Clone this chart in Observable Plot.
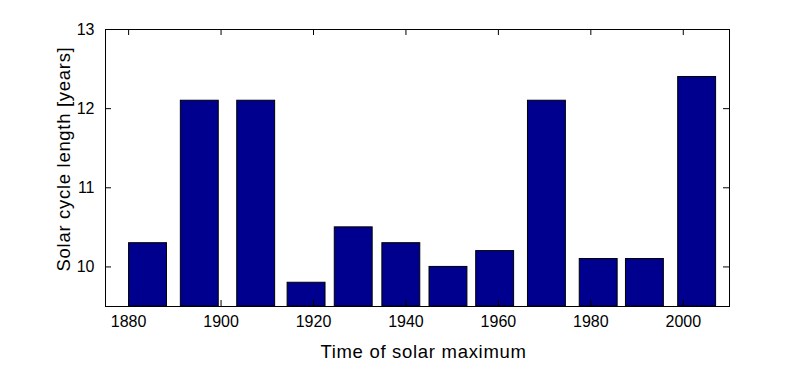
<!DOCTYPE html>
<html>
<head>
<meta charset="utf-8">
<script src="https://cdn.jsdelivr.net/npm/d3@7"></script>
<script src="https://cdn.jsdelivr.net/npm/@observablehq/plot@0.6"></script>
<style>
  html, body { margin: 0; padding: 0; background: #fff; }
  #chart svg { display: block; }
</style>
</head>
<body>
<div id="chart"></div>
<script>
// Data
const years = [1884.2, 1895.4, 1907.6, 1918.5, 1928.7, 1939.0, 1949.2, 1959.3, 1970.5, 1981.7, 1991.7, 2003.0];
const cycleLength = [10.3, 12.1, 12.1, 9.8, 10.5, 10.3, 10.0, 10.2, 12.1, 10.1, 10.1, 12.4];
const xTicks = [1880, 1900, 1920, 1940, 1960, 1980, 2000];
const yTicks = [10, 11, 12, 13];
const xDomain = [1875, 2010];
const yDomain = [9.5, 13];
const barWidthYears = 8.2;
const xLabel = "Time of solar maximum";
const yLabel = "Solar cycle length [years]";

const data = years.map((y, i) => ({year: y, value: cycleLength[i]}));

const W = 806, H = 388;
const mL = 105, mR = 77, mT = 29, mB = 82;
const plotW = W - mL - mR, plotH = H - mT - mB;
const tickLen = 6;
const font = "'Liberation Sans', Arial, Helvetica, sans-serif";

const chart = Plot.plot({
  width: W,
  height: H,
  marginLeft: mL,
  marginRight: mR,
  marginTop: mT,
  marginBottom: mB,
  style: {background: "#fff", color: "#000", fontFamily: font, fontSize: "16px"},
  x: {type: "linear", domain: xDomain},
  y: {type: "linear", domain: yDomain},
  marks: [
    Plot.rectY(data, {
      x1: d => d.year - barWidthYears / 2,
      x2: d => d.year + barWidthYears / 2,
      y1: () => yDomain[0],
      y2: "value",
      fill: "#00008F",
      stroke: "#000",
      strokeWidth: 1
    }),
    // inward ticks
    Plot.tickX(xTicks, {x: d => d, stroke: "#000", insetTop: plotH - tickLen}),
    Plot.tickX(xTicks, {x: d => d, stroke: "#000", insetBottom: plotH - tickLen}),
    Plot.tickY(yTicks, {y: d => d, stroke: "#000", insetRight: plotW - tickLen}),
    Plot.tickY(yTicks, {y: d => d, stroke: "#000", insetLeft: plotW - tickLen}),
    Plot.frame({stroke: "#000", strokeWidth: 1}),
    Plot.axisX({ticks: xTicks, tickSize: 0, tickPadding: 9, tickFormat: "d", label: null, fontSize: 16}),
    Plot.axisY({ticks: yTicks, tickSize: 0, tickPadding: 11, tickFormat: d => String(d), label: null, fontSize: 16}),
    Plot.text([xLabel], {
      text: d => d, frameAnchor: "bottom", lineAnchor: "top", textAnchor: "middle",
      dx: 6, dy: 38, fontSize: 18.5, fill: "#000"
    }),
    Plot.text([yLabel], {
      text: d => d, frameAnchor: "left", lineAnchor: "middle", textAnchor: "middle",
      rotate: -90, dx: -41, dy: -9, fontSize: 18.5, fill: "#000"
    })
  ]
});

d3.select(chart).selectAll("text")
  .filter(function() { return this.textContent === xLabel || this.textContent === yLabel; })
  .attr("letter-spacing", "0.7px");
document.getElementById("chart").appendChild(chart);
</script>
</body>
</html>
